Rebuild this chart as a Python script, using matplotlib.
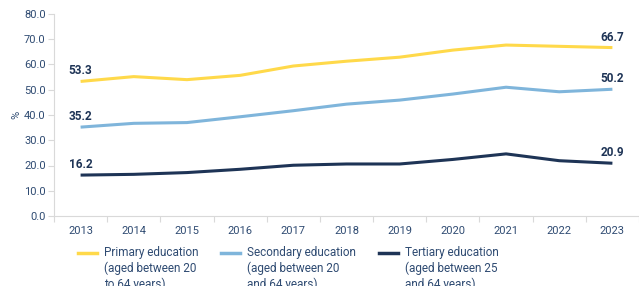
import matplotlib.pyplot as plt
import numpy as np
from matplotlib.lines import Line2D
from matplotlib.ticker import FixedLocator, FormatStrFormatter

plt.rcParams["font.family"] = ["Roboto", "DejaVu Sans"]

years = [2013, 2014, 2015, 2016, 2017, 2018, 2019, 2020, 2021, 2022, 2023]
primary = [53.3, 55.2, 54.0, 55.7, 59.4, 61.3, 62.9, 65.7, 67.7, 67.2, 66.7]
secondary = [35.2, 36.7, 37.0, 39.3, 41.7, 44.3, 45.9, 48.3, 51.0, 49.2, 50.2]
tertiary = [16.2, 16.5, 17.2, 18.5, 20.1, 20.6, 20.6, 22.4, 24.6, 21.9, 20.9]

labels = [
    "Primary education\n(aged between 20\nto 64 years)",
    "Secondary education\n(aged between 20\nand 64 years)",
    "Tertiary education\n(aged between 25\nand 64 years)",
]
colors = ["#FFD94A", "#7FB5DB", "#1E3456"]
text_col = "#2F4B72"
label_col = "#1E3456"

W, H = 639, 286
fig = plt.figure(figsize=(W / 100, H / 100), dpi=100)
ax = fig.add_axes([54 / W, 1 - 216 / H, 1 - 54 / W, (216 - 14) / H])

x = np.arange(len(years))
for series, color in zip([primary, secondary, tertiary], colors):
    ax.plot(x, series, color=color, lw=2.2, solid_capstyle="butt")
    for i in (0, -1):
        ax.text(x[i], series[i] + 1.6, f"{series[i]:.1f}", ha="center", va="bottom",
                fontsize=8.5, fontweight="bold", color=label_col)

ax.set_xlim(-0.5, len(years) - 0.5)
ax.set_ylim(0, 80)
ax.set_yticks(np.arange(0, 81, 10))
ax.yaxis.set_major_formatter(FormatStrFormatter("%.1f"))
ax.set_xticks(x)
ax.set_xticklabels([str(y) for y in years])
ax.xaxis.set_minor_locator(FixedLocator(np.arange(-0.5, len(years), 1.0)))
ax.tick_params(axis="x", which="major", length=0, pad=7, labelsize=8, labelcolor=text_col)
ax.tick_params(axis="x", which="minor", length=4, color="#D9D9D9", width=0.8)
ax.tick_params(axis="y", length=4, color="#D9D9D9", width=0.8, labelsize=8,
               labelcolor=text_col, pad=2)

for side in ["top", "right"]:
    ax.spines[side].set_visible(False)
for side in ["left", "bottom"]:
    ax.spines[side].set_color("#D9D9D9")
    ax.spines[side].set_linewidth(0.8)

ax.set_ylabel("%", color=text_col, fontsize=8, labelpad=2)

# legend: handle aligned with the first text line
legend_x = [78, 221, 379]
for lx, color, label in zip(legend_x, colors, labels):
    fig.add_artist(Line2D([lx / W, (lx + 19) / W], [1 - 253 / H] * 2,
                          color=color, lw=2.5, transform=fig.transFigure))
    fig.text((lx + 26) / W, 1 - 246 / H, label, ha="left", va="top",
             fontsize=8.5, color=text_col, linespacing=1.25)

fig.savefig("out.png", dpi=100)
